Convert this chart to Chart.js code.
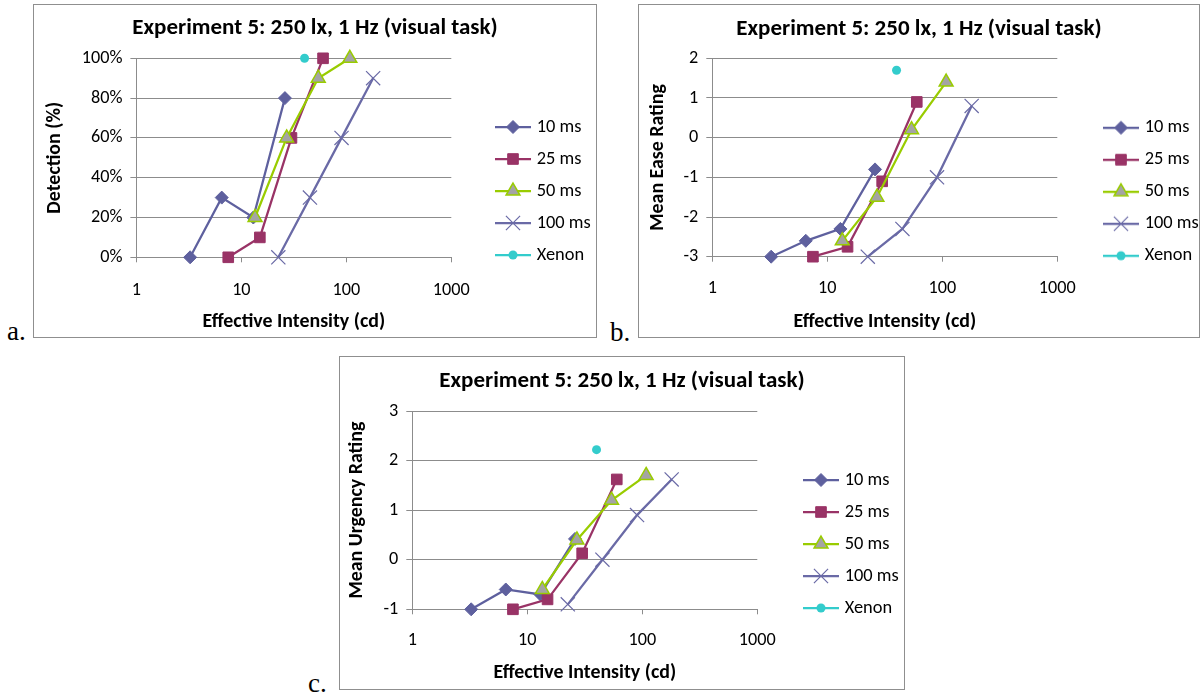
<!DOCTYPE html>
<html><head><meta charset="utf-8">
<script src="https://cdn.jsdelivr.net/npm/chart.js@4.4.1/dist/chart.umd.min.js"></script>
<style>
html,body{margin:0;padding:0;background:#fff;}
body{width:1200px;height:698px;position:relative;overflow:hidden;}
.box{position:absolute;border:1px solid #8f8f8f;box-sizing:border-box;background:#fff;}
.box canvas{display:block;}
.tag{position:absolute;font-family:"Liberation Serif","DejaVu Serif",serif;font-size:27px;line-height:1;color:#000;}
</style></head><body>
<div class="box" style="left:33px;top:4px;width:564px;height:334px"><canvas id="cA" width="562" height="332"></canvas></div>
<div class="box" style="left:638px;top:4px;width:562px;height:334px"><canvas id="cB" width="560" height="332"></canvas></div>
<div class="box" style="left:339px;top:356px;width:566px;height:334px"><canvas id="cC" width="564" height="332"></canvas></div>
<div class="tag" style="left:7px;top:318px">a.</div>
<div class="tag" style="left:610px;top:319px">b.</div>
<div class="tag" style="left:308px;top:670px">c.</div>
<script>
// ---------- data ----------
const titleText = 'Experiment 5: 250 lx, 1 Hz (visual task)';
const xAxisTitle = 'Effective Intensity (cd)';
const seriesNames = ['10 ms', '25 ms', '50 ms', '100 ms', 'Xenon'];
const xTickValues = [1, 10, 100, 1000];
const xTickLabels = ['1', '10', '100', '1000'];

// effective intensity (cd) per series
const x10 = [3.25, 6.5, 13, 26];
const x25 = [7.5, 15, 30, 60];
const x50 = [13.5, 27, 54, 108];
const x100 = [22.5, 45, 90, 180];
const xXenon = [40];

// a. Detection (%)
const detection10 = [0, 30, 20, 80];
const detection25 = [0, 10, 60, 100];
const detection50 = [20, 60, 90, 100];
const detection100 = [0, 30, 60, 90];
const detectionXenon = [100];
const detectionTicks = [0, 20, 40, 60, 80, 100];
const detectionTickLabels = ['0%', '20%', '40%', '60%', '80%', '100%'];

// b. Mean Ease Rating
const ease10 = [-3, -2.6, -2.3, -0.8];
const ease25 = [-3, -2.75, -1.1, 0.9];
const ease50 = [-2.6, -1.5, 0.2, 1.4];
const ease100 = [-3, -2.3, -1.0, 0.8];
const easeXenon = [1.7];
const easeTicks = [-3, -2, -1, 0, 1, 2];
const easeTickLabels = ['-3', '-2', '-1', '0', '1', '2'];

// c. Mean Urgency Rating
const urgency10 = [-1, -0.6, -0.7, 0.42];
const urgency25 = [-1, -0.8, 0.13, 1.62];
const urgency50 = [-0.6, 0.4, 1.2, 1.7];
const urgency100 = [-0.9, 0, 0.9, 1.62];
const urgencyXenon = [2.22];
const urgencyTicks = [-1, 0, 1, 2, 3];
const urgencyTickLabels = ['-1', '0', '1', '2', '3'];

// ---------- styles ----------
const FONT = "Carlito, Lato, 'Liberation Sans', sans-serif";
const GRID = '#8c8c8c';
const styles = [
  {line:'#5e609e', fill:'#5e609e', border:'#5e609e', ps:'rectRot', r:6.5, bw:1},
  {line:'#993366', fill:'#993366', border:'#993366', ps:'rect', r:7.5, bw:1},
  {line:'#99cc00', fill:'#a4a4a4', border:'#99cc00', ps:'triangle', r:8, bw:1.5},
  {line:'#6a6aa6', fill:'#6a6aa6', border:'#6a6aa6', ps:'crossRot', r:10, bw:1.2},
  {line:'#33cccc', fill:'#33cccc', border:'#33cccc', ps:'circle', r:4.5, bw:0}
];

const mctx = document.createElement('canvas').getContext('2d');
function fitSize(text, weight, target){
  mctx.font = weight + ' 20px ' + FONT;
  const w = mctx.measureText(text).width;
  return Math.round(200 * target / w) / 10;
}
const titleSize = fitSize(titleText, 'bold', 366);
const axisTitleSize = fitSize(xAxisTitle, 'bold', 183);
const legendSize = fitSize('100 ms', 'normal', 54);
const tickSize = fitSize('100%', 'normal', 40.7);

function legendIcon(st){
  const c = document.createElement('canvas');
  c.width = 36; c.height = 20;
  const g = c.getContext('2d');
  g.strokeStyle = st.line; g.lineWidth = 2.25;
  g.beginPath(); g.moveTo(0, 10); g.lineTo(36, 10); g.stroke();
  g.fillStyle = st.fill; g.strokeStyle = st.border; g.lineWidth = st.bw || 0.01;
  Chart.helpers.drawPoint(g, {pointStyle: st.ps, radius: st.r, borderWidth: st.bw, rotation: 0}, 18, 10);
  return c;
}
const PW = 29;

function makeChart(cfg){
  const canvas = document.getElementById(cfg.canvas);
  const W = canvas.width, H = canvas.height;
  const icons = styles.map(legendIcon);
  const tL = titleSize * 1.2, axL = axisTitleSize * 1.2, tkL = tickSize * 1.2;
  const LP = 32 - legendSize;
  const datasets = cfg.series.map((ys, i) => ({
    label: seriesNames[i],
    data: cfg.xs[i].map((x, j) => ({x: x, y: ys[j]})),
    showLine: i < 4,
    borderColor: styles[i].line,
    backgroundColor: styles[i].fill,
    borderWidth: 2.25,
    pointStyle: styles[i].ps,
    pointRadius: styles[i].r,
    pointHoverRadius: styles[i].r,
    pointBackgroundColor: styles[i].fill,
    pointBorderColor: styles[i].border,
    pointBorderWidth: styles[i].bw,
    order: 10 - i,
    clip: false
  }));
  const fix = {
    id: 'fix' + cfg.canvas,
    afterInit(chart){
      const lg = chart.legend;
      const f = lg.fit.bind(lg);
      lg.fit = function(){ f(); this.width = W - cfg.areaRight; };
    },
    afterLayout(chart){
      const lg = chart.legend;
      lg.left = cfg.legX + 18 - PW / 2 - LP;
      lg.right = lg.left + lg.width;
      lg.top = cfg.legY - LP - legendSize / 2;
      lg.bottom = lg.top + H * 2;
    }
  };
  return new Chart(canvas, {
    type: 'scatter',
    data: {datasets: datasets},
    plugins: [fix],
    options: {
      responsive: false, animation: false, devicePixelRatio: 1, events: [],
      layout: {padding: 0},
      plugins: {
        tooltip: {enabled: false},
        title: {display: true, text: titleText, color: '#000',
          font: {family: FONT, size: titleSize, weight: 'bold'},
          padding: {top: cfg.titleY - tL / 2, bottom: cfg.areaTop - cfg.titleY - tL / 2}},
        legend: {display: true, position: 'right', align: 'start',
          labels: {usePointStyle: true, pointStyleWidth: PW, padding: LP, color: '#000',
            font: {family: FONT, size: legendSize},
            generateLabels: (chart) => chart.data.datasets.map((d, i) => ({
              text: d.label, pointStyle: icons[i], datasetIndex: i, hidden: false,
              lineWidth: 0, fillStyle: 'rgba(0,0,0,0)', strokeStyle: 'rgba(0,0,0,0)', fontColor: '#000'
            }))}}
      },
      scales: {
        x: {type: 'logarithmic', position: 'bottom', min: 1, max: 1000,
          afterBuildTicks: a => { a.ticks = xTickValues.map(v => ({value: v})); },
          afterFit: s => { s.height = H - cfg.areaBottom; },
          ticks: {autoSkip: false, maxRotation: 0, minRotation: 0, color: '#000',
            padding: cfg.xTickY - cfg.areaBottom - 5 - tkL / 2,
            font: {family: FONT, size: tickSize},
            callback: (v, i) => xTickLabels[i]},
          grid: {display: true, drawOnChartArea: false, drawTicks: true, tickLength: 5, color: GRID, lineWidth: 1},
          border: {display: true, color: GRID, width: 1},
          title: {display: true, text: xAxisTitle, color: '#000',
            font: {family: FONT, size: axisTitleSize, weight: 'bold'},
            padding: {top: 0, bottom: H - cfg.xTitleY - axL / 2}}
        },
        y: {type: 'linear', position: 'left', min: cfg.yMin, max: cfg.yMax,
          afterBuildTicks: a => { a.ticks = cfg.ticks.map(v => ({value: v})); },
          afterFit: s => { s.width = cfg.areaLeft; },
          ticks: {color: '#000', padding: 8, font: {family: FONT, size: tickSize},
            callback: (v, i) => cfg.tickLabels[i]},
          grid: {color: GRID, lineWidth: 1, drawTicks: true, tickLength: 6},
          border: {display: true, color: GRID, width: 1},
          title: {display: true, text: cfg.yTitle, color: '#000',
            font: {family: FONT, size: axisTitleSize, weight: 'bold'},
            padding: {top: cfg.yTitleX - axL / 2, bottom: 0}}
        }
      }
    }
  });
}

const xsAll = [x10, x25, x50, x100, xXenon];

makeChart({canvas: 'cA', yTitle: 'Detection (%)', yMin: 0, yMax: 100,
  ticks: detectionTicks, tickLabels: detectionTickLabels, xs: xsAll,
  series: [detection10, detection25, detection50, detection100, detectionXenon],
  areaLeft: 102.4, areaRight: 417.3, areaTop: 53.3, areaBottom: 252.3,
  titleY: 23.5, yTitleX: 21, xTickY: 285, xTitleY: 317, legX: 461, legY: 122});

makeChart({canvas: 'cB', yTitle: 'Mean Ease Rating', yMin: -3, yMax: 2,
  ticks: easeTicks, tickLabels: easeTickLabels, xs: xsAll,
  series: [ease10, ease25, ease50, ease100, easeXenon],
  areaLeft: 73.3, areaRight: 418.3, areaTop: 53.3, areaBottom: 251.7,
  titleY: 24, yTitleX: 19, xTickY: 283, xTitleY: 316.7, legX: 464, legY: 122.7});

makeChart({canvas: 'cC', yTitle: 'Mean Urgency Rating', yMin: -1, yMax: 3,
  ticks: urgencyTicks, tickLabels: urgencyTickLabels, xs: xsAll,
  series: [urgency10, urgency25, urgency50, urgency100, urgencyXenon],
  areaLeft: 72.3, areaRight: 417.3, areaTop: 54, areaBottom: 252.3,
  titleY: 24.7, yTitleX: 17, xTickY: 283, xTitleY: 316, legX: 463, legY: 123});
</script>
</body></html>
